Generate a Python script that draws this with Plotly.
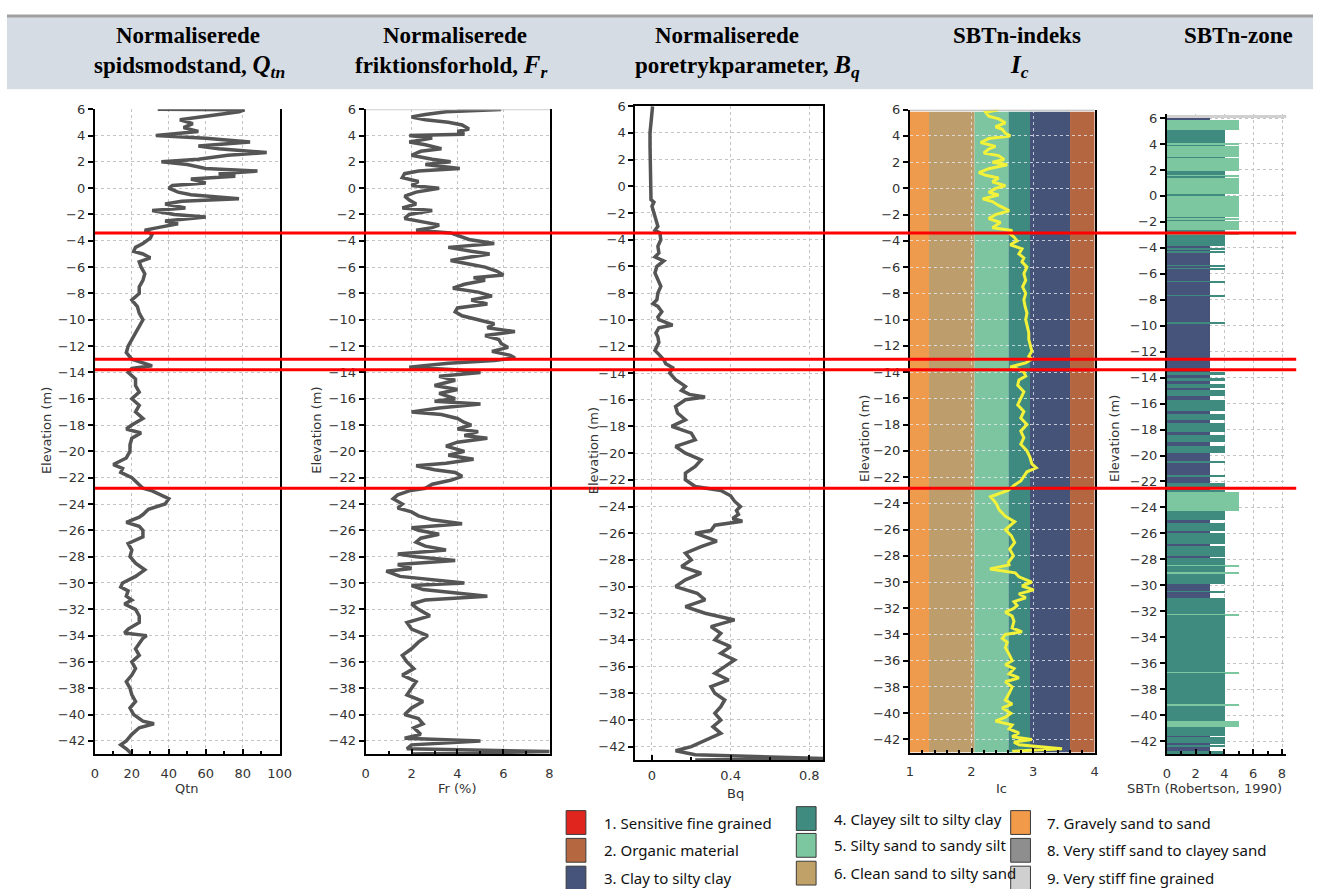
import plotly.graph_objects as go

W, H = 1325, 889

# ---------------- CPT data (elevation in m) ----------------
QTN_ELEV = [6.0, 5.95, 5.8, 5.5, 5.2, 4.9, 4.6, 4.3, 4.0, 3.8, 3.5, 3.2, 3.0, 2.7, 2.5, 2.2, 2.0, 1.8, 1.5, 1.3,
            1.1, 0.9, 0.7, 0.4, 0.2, 0.0, -0.3, -0.5, -0.8, -1.0, -1.2, -1.5, -1.7, -2.0, -2.2, -2.5, -2.7, -3.0,
            -3.2, -3.5, -3.8, -4.2, -4.5, -4.8, -5.0, -5.3, -5.6, -6.0, -6.5, -7.0, -7.5, -8.0, -8.5, -9.0, -9.5,
            -10.0, -10.5, -11.0, -11.5, -12.0, -12.5, -13.0, -13.5, -13.7, -14.0, -14.5, -15.0, -15.5, -16.0,
            -16.5, -17.0, -17.5, -18.0, -18.3, -18.6, -19.0, -19.5, -20.0, -20.5, -21.0, -21.3, -21.6, -22.0,
            -22.5, -22.8, -23.0, -23.3, -23.6, -24.0, -24.4, -24.8, -25.0, -25.4, -25.7, -26.0, -26.5, -27.0,
            -27.5, -28.0, -28.5, -29.0, -29.5, -30.0, -30.3, -30.6, -31.0, -31.3, -31.6, -32.0, -32.5, -33.0,
            -33.5, -33.8, -34.0, -34.2, -34.6, -35.0, -35.5, -36.0, -36.5, -37.0, -37.5, -38.0, -38.5, -39.0,
            -39.5, -40.0, -40.5, -40.7, -41.0, -41.5, -42.0, -42.3, -42.6, -43.0]
QTN = [34, 81, 78, 60, 46, 53, 48, 56, 33, 60, 84, 56, 67, 93, 72, 56, 36, 50, 60, 88,
       67, 76, 52, 60, 42, 40, 45, 52, 78, 47, 38, 49, 31, 43, 60, 38, 45, 34,
       27, 31, 30, 26, 22, 21, 26, 30, 24, 25, 27, 26, 24, 24, 20, 23, 24,
       26, 24, 22, 20, 18, 17, 20, 31, 20, 18, 22, 22, 24, 20,
       24, 22, 26, 20, 17, 25, 20, 19, 19, 17, 10, 15, 14, 20,
       24, 26, 31, 36, 40, 38, 29, 26, 24, 17, 24, 26, 26, 18,
       20, 19, 22, 27, 22, 15, 14, 18, 17, 20, 16, 22, 24, 24,
       18, 16, 28, 26, 24, 22, 24, 20, 22, 20, 17, 19, 20, 22,
       19, 21, 26, 32, 24, 20, 17, 14, 17, 20]

FR_ELEV = [6.0, 5.98, 5.8, 5.6, 5.4, 5.2, 5.0, 4.8, 4.5, 4.3, 4.1, 4.0, 3.8, 3.5, 3.3, 3.0, 2.8, 2.5, 2.2, 2.0,
           1.8, 1.5, 1.3, 1.1, 0.8, 0.5, 0.2, 0.0, -0.3, -0.6, -0.9, -1.2, -1.5, -1.7, -2.0, -2.3, -2.6, -2.8,
           -3.0, -3.2, -3.4, -3.6, -3.9, -4.2, -4.5, -4.8, -5.0, -5.3, -5.5, -5.8, -6.0, -6.3, -6.6, -6.8, -7.0,
           -7.3, -7.6, -7.9, -8.2, -8.5, -8.8, -9.1, -9.4, -9.7, -10.0, -10.3, -10.6, -10.9, -11.2, -11.5,
           -11.8, -12.1, -12.4, -12.7, -12.9, -13.1, -13.3, -13.6, -13.8, -14.0, -14.3, -14.6, -15.0, -15.3,
           -15.6, -16.0, -16.2, -16.4, -16.7, -17.0, -17.2, -17.5, -17.8, -18.0, -18.3, -18.5, -18.8, -19.0,
           -19.3, -19.6, -20.0, -20.3, -20.6, -20.9, -21.1, -21.4, -21.6, -21.9, -22.2, -22.5, -22.8, -23.0,
           -23.3, -23.6, -24.0, -24.3, -24.6, -24.9, -25.2, -25.5, -25.8, -26.0, -26.3, -26.6, -26.9, -27.2,
           -27.5, -27.8, -28.0, -28.3, -28.6, -28.9, -29.1, -29.5, -30.0, -30.2, -30.5, -31.0, -31.3, -31.6,
           -32.0, -32.5, -33.0, -33.5, -34.0, -34.5, -35.0, -35.5, -36.0, -36.5, -37.0, -37.5, -38.0, -38.5,
           -39.0, -39.5, -40.0, -40.3, -40.7, -41.0, -41.5, -41.8, -42.0, -42.3, -42.6, -42.8, -43.0]
FR = [4.0, 5.9, 3.5, 2.6, 2.0, 2.6, 3.6, 4.2, 4.5, 4.0, 4.3, 1.9, 2.9, 1.9, 2.6, 3.3, 2.4, 2.0, 2.9, 3.7,
      2.6, 4.1, 2.3, 1.7, 1.6, 2.3, 2.0, 3.2, 2.2, 1.7, 1.9, 2.2, 1.6, 2.9, 1.9, 1.7, 2.6, 3.2,
      2.9, 2.2, 3.7, 4.0, 4.5, 5.6, 3.6, 4.6, 5.4, 4.3, 3.7, 4.6, 5.2, 5.7, 6.0, 4.7, 5.2,
      4.3, 3.8, 4.9, 5.5, 4.6, 5.3, 4.0, 3.9, 4.2, 4.9, 5.6, 5.3, 6.5, 5.2, 5.8,
      5.9, 6.2, 5.5, 6.3, 6.5, 5.6, 3.6, 1.9, 3.9, 5.0, 3.2, 3.9, 3.0, 4.0,
      3.2, 3.9, 3.0, 5.0, 3.2, 2.0, 3.3, 4.0, 4.3, 4.6, 4.0, 4.9, 4.3, 5.3,
      4.0, 3.5, 4.3, 3.6, 4.7, 3.5, 2.2, 3.0, 3.9, 4.2, 3.7, 2.9, 2.6, 1.9,
      1.4, 1.2, 1.6, 1.4, 2.0, 2.3, 2.9, 4.2, 2.0, 2.3, 3.2, 2.4, 2.2, 2.6,
      3.5, 1.4, 2.2, 3.9, 1.4, 2.0, 0.9, 1.5, 4.3, 2.0, 2.5, 5.3, 2.6, 2.0,
      2.3, 2.8, 1.8, 2.0, 2.7, 2.3, 2.0, 1.6, 1.8, 2.1, 1.6, 2.2, 2.0, 1.8,
      2.5, 2.0, 1.7, 2.3, 2.5, 2.1, 2.4, 1.7, 5.0, 2.0, 1.8, 8.0, 2.0]

BQ_ELEV = [6.0, 5.0, 4.0, 3.0, 2.0, 1.0, 0.0, -1.0, -1.2, -1.5, -2.0, -2.5, -3.0, -3.3, -3.5, -4.0, -4.5, -5.0,
           -5.3, -5.6, -6.0, -6.5, -7.0, -7.5, -8.0, -8.5, -8.8, -9.0, -9.4, -9.8, -10.0, -10.4, -10.6, -11.0,
           -11.3, -11.7, -12.0, -12.3, -12.6, -13.0, -13.3, -13.6, -14.0, -14.5, -15.0, -15.3, -15.6, -15.8,
           -16.0, -16.5, -17.0, -17.5, -18.0, -18.5, -19.0, -19.5, -20.0, -20.5, -21.0, -21.5, -22.0, -22.5,
           -22.8, -23.2, -23.6, -24.0, -24.3, -24.6, -24.9, -25.1, -25.4, -25.8, -26.0, -26.3, -26.6, -27.0,
           -27.5, -28.0, -28.5, -29.0, -29.5, -30.0, -30.5, -31.0, -31.5, -32.0, -32.5, -33.0, -33.5, -34.0,
           -34.5, -35.0, -35.5, -36.0, -36.5, -37.0, -37.5, -38.0, -38.5, -39.0, -39.5, -40.0, -40.5, -41.0,
           -41.5, -42.0, -42.3, -42.6, -42.9, -43.0]
BQ = [0.003, -0.005, -0.01, -0.01, -0.008, -0.008, -0.008, -0.005, 0.01, 0.0, 0.01, 0.02, 0.03, 0.015, 0.04,
      0.045, 0.03, 0.035, 0.015, 0.06, 0.025, 0.015, 0.03, 0.045, 0.03, 0.025, 0.005, 0.03, 0.05, 0.03, 0.035,
      0.105, 0.035, 0.02, 0.03, 0.035, 0.025, 0.015, 0.035, 0.06, 0.07, 0.105, 0.09, 0.12, 0.17, 0.15, 0.19,
      0.27, 0.17, 0.12, 0.13, 0.17, 0.10, 0.20, 0.22, 0.12, 0.17, 0.25, 0.22, 0.17, 0.17, 0.22,
      0.35, 0.40, 0.42, 0.45, 0.43, 0.44, 0.41, 0.46, 0.32, 0.30, 0.22, 0.27, 0.33, 0.25,
      0.17, 0.20, 0.15, 0.25, 0.17, 0.12, 0.23, 0.27, 0.17, 0.27, 0.42, 0.30, 0.35, 0.32,
      0.40, 0.35, 0.42, 0.37, 0.32, 0.39, 0.30, 0.32, 0.37, 0.35, 0.32, 0.35, 0.31, 0.35,
      0.28, 0.20, 0.12, 0.22, 0.90, 0.22]

IC_ELEV = [6.0, 5.8, 5.5, 5.3, 5.0, 4.7, 4.5, 4.2, 4.0, 3.8, 3.5, 3.2, 3.0, 2.7, 2.5, 2.2, 2.0, 1.8, 1.5, 1.2,
           1.0, 0.8, 0.5, 0.2, 0.0, -0.3, -0.5, -0.8, -1.0, -1.3, -1.7, -2.0, -2.3, -2.6, -3.0, -3.2, -3.4,
           -3.7, -4.0, -4.3, -4.6, -5.0, -5.3, -5.6, -6.0, -6.5, -7.0, -7.5, -8.0, -8.5, -9.0, -9.5, -10.0,
           -10.5, -11.0, -11.5, -12.0, -12.4, -12.8, -13.0, -13.3, -13.6, -13.8, -14.0, -14.3, -14.6, -15.0,
           -15.5, -16.0, -16.5, -17.0, -17.5, -18.0, -18.5, -19.0, -19.5, -20.0, -20.5, -21.0, -21.3, -21.6,
           -22.0, -22.3, -22.6, -23.0, -23.5, -24.0, -24.5, -25.0, -25.4, -25.8, -26.0, -26.5, -27.0, -27.5,
           -28.0, -28.5, -28.7, -29.0, -29.3, -29.6, -30.0, -30.3, -30.6, -30.9, -31.2, -31.5, -31.8, -32.0,
           -32.3, -32.6, -33.0, -33.5, -33.8, -34.0, -34.3, -34.6, -35.0, -35.5, -36.0, -36.3, -36.6, -37.0,
           -37.3, -37.6, -38.0, -38.5, -39.0, -39.3, -39.6, -40.0, -40.3, -40.6, -40.9, -41.2, -41.5, -41.8,
           -42.0, -42.2, -42.4, -42.7, -42.9]
IC = [2.44, 2.23, 2.28, 2.44, 2.55, 2.39, 2.50, 2.55, 2.63, 2.28, 2.15, 2.39, 2.28, 2.20, 2.44, 2.53, 2.34,
      2.58, 2.28, 2.12, 2.23, 2.44, 2.34, 2.55, 2.39, 2.28, 2.44, 2.18, 2.34, 2.44, 2.61, 2.39, 2.28, 2.47,
      2.34, 2.66, 2.61, 2.69, 2.74, 2.63, 2.82, 2.77, 2.85, 2.82, 2.90, 2.85, 2.88, 2.83, 2.88, 2.85, 2.87,
      2.90, 2.88, 2.90, 2.93, 2.93, 2.96, 2.98, 2.93, 2.98, 2.88, 2.63, 2.77, 2.85, 2.88, 2.77, 2.75,
      2.85, 2.80, 2.75, 2.85, 2.80, 2.90, 2.80, 2.85, 2.80, 2.90, 2.95, 2.98, 3.05, 2.90,
      2.85, 2.80, 2.70, 2.60, 2.31, 2.40, 2.45, 2.55, 2.70, 2.60, 2.55, 2.65, 2.70, 2.62,
      2.68, 2.60, 2.61, 2.30, 2.71, 2.77, 2.98, 2.82, 3.01, 2.77, 2.88, 2.69, 2.74, 2.69,
      2.55, 2.66, 2.69, 2.66, 2.82, 2.55, 2.50, 2.58, 2.55, 2.61, 2.66, 2.55, 2.69, 2.61,
      2.77, 2.55, 2.66, 2.61, 2.55, 2.66, 2.50, 2.64, 2.55, 2.39, 2.66, 2.61, 2.77, 2.66,
      2.98, 2.69, 2.77, 3.47, 2.66]

# Soil behaviour type zones (top of each layer, bottom is the next top / -43)
SBT_TOP = [6.2, 6.0, 5.85, 5.05, 4.05, 3.95, 3.8, 3.0, 2.9, 1.9, 1.6, 1.5, 1.4, 0.1, -0.05, -1.6, -1.75,
           -1.85, -1.95, -2.6, -2.9, -3.0, -3.9, -4.05, -4.15, -4.3, -4.4, -5.35, -5.45, -5.55, -5.65,
           -6.55, -6.65, -7.65, -7.75, -9.75, -9.85, -13.6, -13.8, -14.0, -14.3, -14.5, -14.8, -15.0,
           -15.4, -15.7, -16.6, -16.8, -17.3, -17.5, -18.2, -18.4, -19.0, -19.3, -19.8, -20.4, -20.6,
           -21.5, -21.7, -22.1, -22.5, -22.7, -22.85, -24.3, -25.0, -25.2, -25.8, -26.0, -26.8, -27.0,
           -27.8, -27.9, -28.45, -28.55, -28.95, -29.1, -29.9, -30.45, -30.55, -31.0, -32.2, -32.3,
           -36.7, -36.8, -39.2, -39.3, -40.5, -40.9, -41.6, -41.7, -42.2, -42.3, -42.45, -42.8]
SBT_ZONE = [9, 3, 5, 4, 5, 4, 5, 4, 5, 4, 5, 4, 5, 4, 5, 4, 5,
            4, 5, 4, 5, 4, 3, 4, 3, 4, 3, 4, 3, 4, 3,
            4, 3, 4, 3, 4, 3, 4, 3, 4, 3, 4, 3, 4,
            3, 4, 3, 4, 3, 4, 3, 4, 3, 4, 3, 4, 3,
            4, 3, 4, 3, 4, 5, 4, 3, 4, 3, 4, 3, 4,
            3, 4, 5, 4, 5, 4, 3, 4, 3, 4, 5, 4,
            5, 4, 5, 4, 5, 4, 3, 4, 3, 4, 3, 4]
SBT_BASE = -43.0

IC_BOUNDS = [1.0, 1.31, 2.05, 2.60, 2.95, 3.60, 4.0]
IC_BOUND_ZONES = [7, 6, 5, 4, 3, 2]

LAYER_BREAKS = [-3.4, -13.0, -13.8, -22.8]

ZONE_COLORS = {1: "#e0251e", 2: "#b5673f", 3: "#46537a", 4: "#3f8b80", 5: "#7cc7a0",
               6: "#c0a168", 7: "#f09a4a", 8: "#8e8e8e", 9: "#d0d0d0"}
IC_FILL = {7: "#ee9b4e", 6: "#bd9d6b", 5: "#7dc5a1", 4: "#3f8a80", 3: "#465379", 2: "#b3663f"}
LEGEND_LABELS = ["1. Sensitive fine grained", "2. Organic material", "3. Clay to silty clay",
                 "4. Clayey silt to silty clay", "5. Silty sand to sandy silt", "6. Clean sand to silty sand",
                 "7. Gravely sand to sand", "8. Very stiff sand to clayey sand", "9. Very stiff fine grained"]

# ---------------- page geometry (pixels) ----------------
def fx(p):
    return p / W


def fy(p):
    return 1 - p / H


# x pixel span, y pixel span (top, bottom) and y range per panel
PANELS = [
    dict(x=(92, 279), y=(103, 753), yr=(-43, 6)),
    dict(x=(366, 553), y=(103, 753), yr=(-43, 6)),
    dict(x=(639, 829), y=(100, 759), yr=(-43, 6)),
    dict(x=(917, 1104), y=(103.5, 751.5), yr=(-43, 6)),
    dict(x=(1177, 1298), y=(108, 753), yr=(-43, 6.3)),
]

TICK_FONT = dict(family="DejaVu Sans", size=13, color="#333333")
LINE_GREY = "#555555"

fig = go.Figure()

# panel 1-3: profile curves
for i, (xs, ys) in enumerate([(QTN, QTN_ELEV), (FR, FR_ELEV), (BQ, BQ_ELEV)], start=1):
    fig.add_trace(go.Scatter(x=xs, y=ys, mode="lines", line=dict(color=LINE_GREY, width=3.5),
                             xaxis=f"x{i if i > 1 else ''}", yaxis=f"y{i if i > 1 else ''}",
                             showlegend=False, hoverinfo="skip"))

# panel 4: Ic curve
fig.add_trace(go.Scatter(x=IC, y=IC_ELEV, mode="lines", line=dict(color="#f2f23a", width=3),
                         xaxis="x4", yaxis="y4", showlegend=False, hoverinfo="skip"))

# panel 5: SBTn zone bars
bottoms = SBT_TOP[1:] + [SBT_BASE]
mids = [(t + b) / 2 for t, b in zip(SBT_TOP, bottoms)]
thick = [t - b for t, b in zip(SBT_TOP, bottoms)]
fig.add_trace(go.Bar(orientation="h", x=SBT_ZONE, y=mids, width=thick, base=0,
                     marker=dict(color=[ZONE_COLORS[z] for z in SBT_ZONE], line=dict(width=0)),
                     xaxis="x5", yaxis="y5", showlegend=False, hoverinfo="skip"))

shapes = []
annotations = []

# header band
shapes.append(dict(type="rect", xref="paper", yref="paper", x0=fx(3), x1=1, y0=fy(83), y1=fy(9),
                   fillcolor="#d6dce4", line=dict(width=0), layer="below"))
shapes.append(dict(type="line", xref="paper", yref="paper", x0=fx(3), x1=1, y0=fy(9), y1=fy(9),
                   line=dict(color="#a0a0a0", width=3)))

HEAD = dict(family="Liberation Serif", size=23, color="#000000")
MATH = "<span style='font-size:25px'>"
headers = [
    ("<b>Normaliserede</b>", 186, 29),
    (f"<b>spidsmodstand, {MATH}<i>Q</i><sub><i>tn</i></sub></span></b>", 188, 60),
    ("<b>Normaliserede</b>", 457, 29),
    (f"<b>friktionsforhold, {MATH}<i>F</i><sub><i>r</i></sub></span></b>", 452, 60),
    ("<b>Normaliserede</b>", 732, 29),
    (f"<b>poretrykparameter, {MATH}<i>B</i><sub><i>q</i></sub></span></b>", 753, 60),
    ("<b>SBTn-indeks</b>", 1025, 29),
    (f"<b>{MATH}<i>I</i><sub><i>c</i></sub></span></b>", 1028, 60),
    ("<b>SBTn-zone</b>", 1250, 29),
]
for txt, px, py in headers:
    annotations.append(dict(text=txt, x=fx(px), y=fy(py), xref="paper", yref="paper", showarrow=False,
                            xanchor="center", yanchor="middle", font=HEAD))

# axes
X_SPECS = [
    dict(range=[0, 100], tickvals=[0, 20, 40, 60, 80, 100], minor=10, title="Qtn", tx=185, ty=788, so=6),
    dict(range=[0, 8.04], tickvals=[0, 2, 4, 6, 8], minor=1, title="Fr (%)", tx=459, ty=788, so=6),
    dict(range=[-0.085, 0.87], tickvals=[0, 0.4, 0.8], minor=0.2, title="Bq", tx=740, ty=793, so=2),
    dict(range=[1, 4], tickvals=[1, 2, 3, 4], minor=0.2, title="Ic", tx=1010, ty=788, so=6),
    dict(range=[0, 8.3], tickvals=[0, 2, 4, 6, 8], minor=1, title="SBTn (Robertson, 1990)", tx=1215,
         ty=788, so=6),
]
ELEV_TITLE_POS = [(43, 427), (316, 427), (597, 447), (871, 435), (1124, 435)]
ELEV_TICKS = list(range(-42, 7, 2))

layout_axes = {}
for i, (p, xs) in enumerate(zip(PANELS, X_SPECS), start=1):
    sfx = "" if i == 1 else str(i)
    grid_col = "rgba(235,238,245,0.75)" if i == 4 else "#c4c4c4"
    layout_axes[f"xaxis{sfx}"] = dict(
        domain=[fx(p["x"][0]), fx(p["x"][1])], anchor=f"y{sfx}", range=xs["range"],
        tickvals=xs["tickvals"], ticks="inside", ticklen=5, tickwidth=1.5, tickcolor="#000",
        minor=dict(dtick=xs["minor"], ticks="inside", ticklen=3, tickcolor="#000", showgrid=False),
        showline=True, linecolor="#000", linewidth=2, mirror=(i == 3),
        showgrid=True, gridcolor=grid_col, griddash="dot", gridwidth=1,
        tickfont=TICK_FONT, ticklabelstandoff=xs["so"], zeroline=False, fixedrange=True)
    layout_axes[f"yaxis{sfx}"] = dict(
        domain=[fy(p["y"][1]), fy(p["y"][0])], anchor=f"x{sfx}", range=list(p["yr"]),
        tickvals=ELEV_TICKS, ticks="outside", ticklen=5, tickwidth=1.5, tickcolor="#000",
        showline=True, linecolor="#000", linewidth=2, mirror=(i in (1, 2, 3, 4)),
        showgrid=True, gridcolor=grid_col, griddash="dot", gridwidth=1,
        tickfont=TICK_FONT, zeroline=False, fixedrange=True)
    annotations.append(dict(text=xs["title"], x=fx(xs["tx"]), y=fy(xs["ty"]), xref="paper", yref="paper",
                            showarrow=False, xanchor="center", yanchor="middle", font=TICK_FONT))
    ex, ey = ELEV_TITLE_POS[i - 1]
    annotations.append(dict(text="Elevation (m)", x=fx(ex), y=fy(ey), xref="paper", yref="paper",
                            showarrow=False, textangle=-90, xanchor="center", yanchor="middle",
                            font=TICK_FONT))

# Ic classification bands behind the Ic curve
for z, x0, x1 in zip(IC_BOUND_ZONES, IC_BOUNDS[:-1], IC_BOUNDS[1:]):
    shapes.append(dict(type="rect", xref="x4", yref="y4", x0=x0, x1=x1, y0=-43, y1=5.85,
                       fillcolor=IC_FILL[z], line=dict(width=0), layer="below"))
shapes.append(dict(type="line", xref="x4", yref="y4", x0=1, x1=4, y0=6, y1=6,
                   line=dict(color="#b4b4b4", width=2)))
shapes.append(dict(type="line", xref="x2", yref="y2", x0=0, x1=8.04, y0=6, y1=6,
                   line=dict(color="#cfcfcf", width=2)))

# layer boundaries across all panels
for e in LAYER_BREAKS:
    shapes.append(dict(type="line", xref="paper", yref="y", x0=fx(92), x1=fx(1308), y0=e, y1=e,
                       line=dict(color="#ff0000", width=3)))

# SBTn legend
LEG_BOX_X = [569, 802, 1019]
LEG_TXT_X = [605, 838, 1054]
LEG_ROW_Y = [[822, 850, 878], [818, 845, 873], [822, 850, 878]]
for k, label in enumerate(LEGEND_LABELS):
    col, row = divmod(k, 3)
    cy = LEG_ROW_Y[col][row]
    bx = LEG_BOX_X[col]
    shapes.append(dict(type="rect", xref="paper", yref="paper", x0=fx(bx), x1=fx(bx + 20),
                       y0=fy(cy + 12), y1=fy(cy - 12), fillcolor=ZONE_COLORS[k + 1],
                       line=dict(color="#3a3a3a", width=1)))
    annotations.append(dict(text=label, x=fx(LEG_TXT_X[col]), y=fy(cy), xref="paper", yref="paper",
                            showarrow=False, xanchor="left", yanchor="middle",
                            font=dict(family="Noto Sans", size=15, color="#111111")))

fig.update_layout(
    width=W, height=H, margin=dict(l=0, r=0, t=0, b=0),
    paper_bgcolor="white", plot_bgcolor="white",
    shapes=shapes, annotations=annotations, showlegend=False, bargap=0,
    **layout_axes,
)

fig.write_html("out.html")
